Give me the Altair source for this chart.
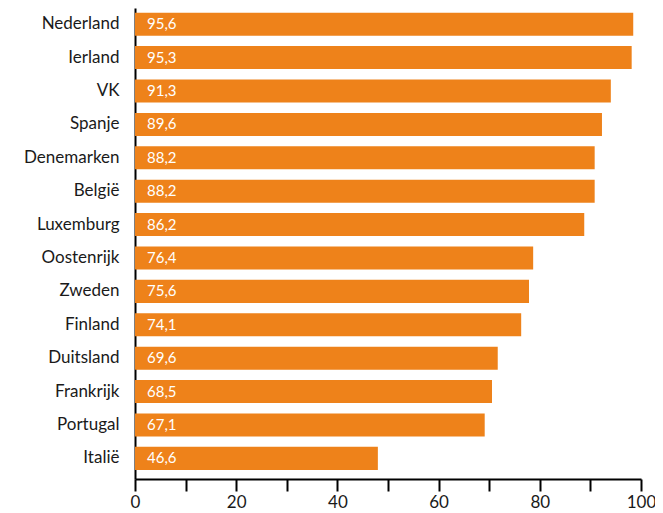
import altair as alt
import pandas as pd

countries = ["Nederland", "Ierland", "VK", "Spanje", "Denemarken", "België",
             "Luxemburg", "Oostenrijk", "Zweden", "Finland", "Duitsland",
             "Frankrijk", "Portugal", "Italië"]
values = [95.6, 95.3, 91.3, 89.6, 88.2, 88.2, 86.2, 76.4, 75.6, 74.1,
          69.6, 68.5, 67.1, 46.6]
axis_ticks = [0, 10, 20, 30, 40, 50, 60, 70, 80, 90, 100]

df = pd.DataFrame({
    "land": countries,
    "waarde": values,
    "label": [f"{v:.1f}".replace(".", ",") for v in values],
})

W, H = 506, 471
FONT = "Lato"
ORANGE = "#EE821A"

y_enc = alt.Y(
    "land:N", sort=countries,
    scale=alt.Scale(paddingInner=0.31, paddingOuter=0.206, align=0.34),
    axis=alt.Axis(title=None, ticks=False, labelFontSize=17, labelPadding=16,
                  domainColor="black", domainWidth=2, labelColor="#1a1a1a",
                  labelFont=FONT),
)

# bars are drawn slightly longer than the printed axis (as in the original)
bar_scale = alt.Scale(domain=[0, 97.09], nice=False)

base = alt.Chart(df)
bars = base.mark_bar(color=ORANGE).encode(
    x=alt.X("waarde:Q", scale=bar_scale, axis=None),
    y=y_enc,
)
text = base.mark_text(align="left", baseline="middle", dx=12, color="white",
                      fontSize=15, font=FONT).encode(
    x=alt.datum(0),
    y=alt.Y("land:N", sort=countries),
    text="label:N",
)
inner = alt.layer(bars, text)

axis_layer = alt.Chart(pd.DataFrame({"t": axis_ticks})).mark_point(opacity=0).encode(
    x=alt.X("t:Q", scale=alt.Scale(domain=[0, 100], nice=False),
            axis=alt.Axis(orient="bottom", values=axis_ticks,
                          labelExpr="datum.value % 20 == 0 ? datum.label : ''",
                          tickSize=12, tickWidth=2, tickColor="black",
                          domainColor="black", domainWidth=2,
                          labelFontSize=17, labelPadding=3, title=None,
                          grid=False, labelFont=FONT, labelColor="#1a1a1a",
                          labelOverlap=False, labelFlush=False)),
)

chart = alt.layer(inner, axis_layer).resolve_scale(x="independent").properties(
    width=W, height=H,
    autosize=alt.AutoSizeParams(type="none"),
    padding={"left": 127, "top": 0, "right": 14, "bottom": 33},
).configure_view(stroke=None)

chart.save("out.html", embed_options={"renderer": "svg", "actions": False})
